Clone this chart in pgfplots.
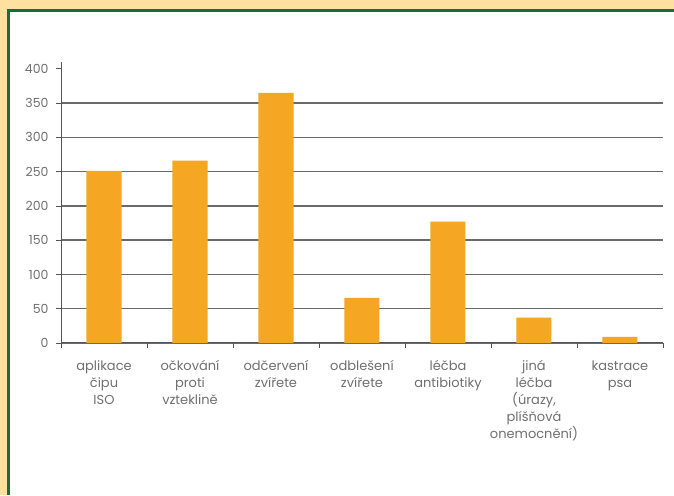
\documentclass[border=0pt]{standalone}
\usepackage{pgfplots}
\pgfplotsset{compat=1.18}
\usepackage{fontspec}
\setmainfont{Poppins}
\definecolor{bgtan}{HTML}{FFE0A0}
\definecolor{frame}{HTML}{1B6B3E}
\definecolor{barc}{HTML}{F5A623}
\definecolor{txt}{HTML}{707070}
\definecolor{gridc}{HTML}{6A6A6A}
\definecolor{axc}{HTML}{555555}
\begin{document}
\begin{tikzpicture}[x=1pt,y=1pt]
\useasboundingbox (0,0) rectangle (674,495);
\fill[bgtan] (0,0) rectangle (674,495);
\fill[white] (8.5,0) rectangle (674,484.5);
\draw[frame, line width=3pt] (8.5,0) -- (8.5,484.5) -- (674,484.5);
\begin{axis}[
  at={(61pt,152pt)}, anchor=south west,
  scale only axis, width=602pt, height=281pt,
  xmin=-0.5, xmax=6.5, ymin=0, ymax=410,
  axis x line*=bottom, axis y line*=left,
  axis line style={axc, line width=1pt},
  xtick={0,...,6},
  xticklabels={{aplikace\\čipu\\ISO},{očkování\\proti\\vzteklině},{odčervení\\zvířete},{odblešení\\zvířete},{léčba\\antibiotiky},{jiná\\léčba\\(úrazy,\\plíšňová\\onemocnění)},{kastrace\\psa}},
  major x tick style={draw=none},
  minor xtick={-0.5,0.5,...,6.5},
  minor tick length=5pt,
  minor x tick style={axc, line width=0.8pt},
  ytick={0,50,...,350},
  extra y ticks={400},
  extra y tick style={grid=none},
  ymajorgrids,
  grid style={gridc, line width=1.4pt},
  major y tick style={axc, line width=0.8pt},
  major tick length=5pt,
  tick align=outside,
  /pgf/number format/assume math mode=true,
  yticklabel style={font=\fontsize{12.5}{14}\selectfont, text=txt, xshift=-4pt},
  xticklabel style={font=\fontsize{13}{17}\selectfont, text=txt, align=center, yshift=-9pt},
  clip=false,
]
\addplot[ybar, bar width=35pt, fill=barc, draw=none] coordinates {
  (0,251) (1,266) (2,365) (3,66) (4,177) (5,37) (6,9)
};
\end{axis}
\end{tikzpicture}
\end{document}
